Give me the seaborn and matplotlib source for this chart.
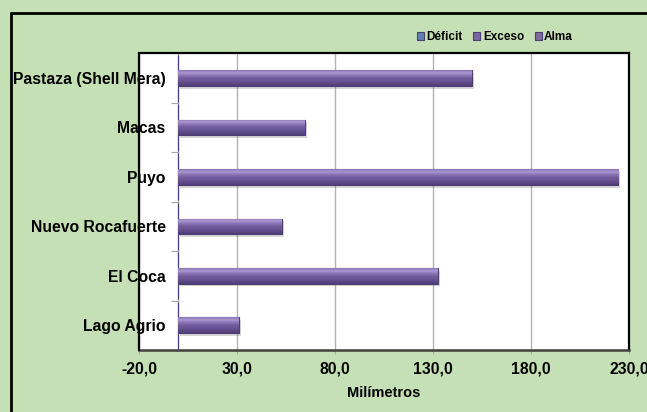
import matplotlib
matplotlib.use("Agg")
import matplotlib.pyplot as plt
from matplotlib.colors import LinearSegmentedColormap
from matplotlib.lines import Line2D
import matplotlib.patheffects as pe
import numpy as np
import pandas as pd
import seaborn as sns

# Estaciones (de arriba hacia abajo) y precipitación en mm
estaciones = ["Pastaza (Shell Mera)", "Macas", "Puyo",
              "Nuevo Rocafuerte", "El Coca", "Lago Agrio"]
deficit = [0, 0, 0, 0, 0, 0]
exceso = [150, 64.5, 224.5, 53, 132.3, 30.8]
alma = [0, 0, 0, 0, 0, 0]
series = ["Déficit", "Exceso", "Alma"]
x_ticks = [-20, 30, 80, 130, 180, 230]
x_tick_labels = ["-20,0", "30,0", "80,0", "130,0", "180,0", "230,0"]

df = pd.DataFrame({
    "Estación": estaciones * 3,
    "Serie": [series[0]] * 6 + [series[1]] * 6 + [series[2]] * 6,
    "Milímetros": deficit + exceso + alma,
})

verde = "#c5e0b4"
colores = {"Déficit": "#4f81bd", "Exceso": "#7760a3", "Alma": "#7b62a6"}

sns.set_theme(style="white")
plt.rcParams["font.family"] = ["Liberation Sans", "DejaVu Sans"]

fig = plt.figure(figsize=(6.47, 4.12), dpi=100, facecolor=verde)
fig.patch.set_linewidth(0)
ax = fig.add_axes([139 / 647, 1 - 350 / 412, 490 / 647, (350 - 53.3) / 412])
ax.set_facecolor("white")

sns.barplot(data=df, y="Estación", x="Milímetros", hue="Serie",
            order=estaciones, hue_order=series, palette=colores,
            orient="h", width=0.95, edgecolor="#4e3d75", linewidth=0.8,
            ax=ax, legend=True, zorder=3)

# Relieve de las barras: sombra suave y degradado vertical recortado a cada barra
relieve = LinearSegmentedColormap.from_list(
    "relieve", ["#8a75b5", "#ab97d2", "#8d77b8", "#735d9f",
                "#6a5596", "#5d4989", "#4f3e77"])
grad = np.linspace(0, 1, 64).reshape(-1, 1)
for p in list(ax.patches):
    w = p.get_width()
    if w <= 0:
        continue
    p.set_path_effects([pe.SimplePatchShadow(offset=(1.5, -2), alpha=0.25,
                                             shadow_rgbFace="#606060"),
                        pe.Normal()])
    x0, y0, h = p.get_x(), p.get_y(), p.get_height()
    im = ax.imshow(grad, extent=[x0, x0 + w, y0 + h, y0], origin="upper",
                   aspect="auto", cmap=relieve, zorder=3.5,
                   interpolation="bilinear")
    im.set_clip_path(p)

ax.set_xlim(-20, 230)
ax.set_xticks(x_ticks)
ax.set_xticklabels(x_tick_labels)
ax.set_ylim(len(estaciones) - 0.5, -0.5)

# Cuadrícula vertical
ax.grid(axis="x", color="#b3b3b3", linewidth=1.0, zorder=0)
ax.grid(axis="y", visible=False)
ax.set_axisbelow(True)

# Eje de categorías en x = 0
ax.spines["left"].set_position(("data", 0))
ax.spines["left"].set_color("#a6a6a6")
ax.spines["left"].set_linewidth(1.0)
for s in ["top", "right"]:
    ax.spines[s].set_color("black")
    ax.spines[s].set_linewidth(1.6)
ax.spines["bottom"].set_color("#404040")
ax.spines["bottom"].set_linewidth(1.8)
ax.axvline(-20, color="black", linewidth=1.6, zorder=5, clip_on=False)

ax.set_yticks(range(len(estaciones)))
ax.set_yticklabels(estaciones)
ax.set_yticks([i - 0.5 for i in range(len(estaciones) + 1)], minor=True)
ax.tick_params(axis="y", which="major", length=0, pad=9,
               labelsize=11.3, labelcolor="black")
ax.tick_params(axis="y", which="minor", length=5, width=0.8,
               color="#a6a6a6", direction="out", left=True)
ax.tick_params(axis="x", which="major", length=3, width=0.8,
               color="#a6a6a6", direction="out", bottom=True,
               labelsize=11.3, labelcolor="black", pad=5)
for lbl in ax.get_yticklabels() + ax.get_xticklabels():
    lbl.set_fontweight("bold")

ax.set_ylabel("")
ax.set_xlabel("Milímetros", fontsize=10.5, fontweight="bold", labelpad=7,
              color="black")

handles, labels = ax.get_legend_handles_labels()
leg = ax.legend(handles, labels, loc="center",
                bbox_to_anchor=(495 / 647, 1 - 37 / 412),
                bbox_transform=fig.transFigure, ncol=3, frameon=False,
                prop={"weight": "bold", "size": 8.5}, handlelength=0.6,
                handleheight=0.6, handletextpad=0.2, columnspacing=0.9)
for t in leg.get_texts():
    t.set_color("black")

# Marco exterior del gráfico (lados izquierdo y superior)
marco_izq, marco_sup = 11 / 647, 1 - 13 / 412
fig.add_artist(Line2D([marco_izq, marco_izq], [0, marco_sup],
                      transform=fig.transFigure, color="black", linewidth=2))
fig.add_artist(Line2D([marco_izq, 1.0], [marco_sup, marco_sup],
                      transform=fig.transFigure, color="black", linewidth=2))

fig.savefig("out.png", dpi=100, facecolor=verde)
